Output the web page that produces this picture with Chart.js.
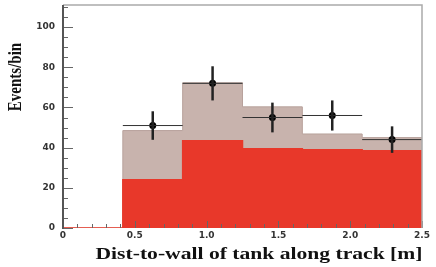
<!DOCTYPE html>
<html>
<head>
<meta charset="utf-8">
<script src="https://cdn.jsdelivr.net/npm/chart.js@4.4.1/dist/chart.umd.min.js"></script>
<style>
  html, body { margin: 0; padding: 0; background: #fff; }
  #wrap { width: 436px; height: 267px; }
</style>
</head>
<body>
<div id="wrap"><canvas id="histChart" width="436" height="267"></canvas></div>
<script>
// Histogram bins (m) and contents
const binEdges = [0, 0.4167, 0.8333, 1.25, 1.6667, 2.0833, 2.5];
const totalMC  = [0, 48.5, 72.3, 60.3, 46.8, 45.0];   // brown (all MC)
const redMC    = [0, 24.0, 43.4, 39.5, 39.0, 38.5];   // red component
const dataVals = [null, 51, 72, 55, 56, 44];          // data points
const dataErr  = [null, 7.1, 8.5, 7.4, 7.5, 6.6];     // vertical errors
const xTicks = [0, 0.5, 1, 1.5, 2, 2.5];
const yTicks = [0, 20, 40, 60, 80, 100];

const RED = '#e8382a';
const BROWN = '#c8b3ad';

// histogram outline as step points (left edge of each bin + final right edge)
function stepPoints(vals) {
    const pts = vals.map((v, i) => ({ x: binEdges[i], y: v }));
    pts.push({ x: binEdges[binEdges.length - 1], y: vals[vals.length - 1] });
    return pts;
}

const dataPoints = [];
dataVals.forEach((v, i) => {
    if (v !== null) dataPoints.push({ x: (binEdges[i] + binEdges[i + 1]) / 2, y: v, i: i });
});

const tickFont = { family: 'DejaVu Sans', size: 9, weight: 'bold' };

// error bars, inner ticks, frame and axis titles
const decor = {
    id: 'decor',
    afterDatasetsDraw(chart) {
        const { ctx, chartArea: a, scales: { x, y } } = chart;
        ctx.save();

        // error bars
        dataPoints.forEach(p => {
            const px = x.getPixelForValue(p.x);
            const py = y.getPixelForValue(p.y);
            ctx.strokeStyle = '#333';
            ctx.lineWidth = 1;
            ctx.beginPath();
            ctx.moveTo(x.getPixelForValue(binEdges[p.i]), py);
            ctx.lineTo(x.getPixelForValue(binEdges[p.i + 1]), py);
            ctx.stroke();
            ctx.strokeStyle = '#222';
            ctx.lineWidth = 2.5;
            ctx.beginPath();
            ctx.moveTo(px, y.getPixelForValue(p.y - dataErr[p.i]));
            ctx.lineTo(px, y.getPixelForValue(p.y + dataErr[p.i]));
            ctx.stroke();
        });

        // ticks pointing into the frame
        ctx.strokeStyle = '#666';
        ctx.lineWidth = 1;
        ctx.beginPath();
        for (let v = 0; v <= 110; v += 5) {
            const py = Math.round(y.getPixelForValue(v)) + 0.5;
            const len = v % 20 === 0 ? 10 : 5;
            ctx.moveTo(a.left, py);
            ctx.lineTo(a.left + len, py);
        }
        for (let k = 0; k <= 25; k++) {
            const px = Math.round(x.getPixelForValue(k / 10)) + 0.5;
            const len = k % 5 === 0 ? 7 : 4;
            ctx.moveTo(px, a.bottom);
            ctx.lineTo(px, a.bottom - len);
        }
        ctx.stroke();

        // frame
        ctx.strokeStyle = '#aaa';
        ctx.lineWidth = 1.5;
        ctx.beginPath();
        ctx.moveTo(a.left, a.top);
        ctx.lineTo(a.right, a.top);
        ctx.lineTo(a.right, a.bottom);
        ctx.stroke();
        ctx.strokeStyle = '#555';
        ctx.lineWidth = 2;
        ctx.beginPath();
        ctx.moveTo(a.left, a.top);
        ctx.lineTo(a.left, a.bottom + 1);
        ctx.stroke();

        // axis titles (the original is stretched sideways)
        ctx.fillStyle = '#111';
        ctx.textAlign = 'center';
        ctx.textBaseline = 'middle';
        ctx.save();
        ctx.translate(259, 255);
        ctx.scale(1.35, 1);
        ctx.font = 'bold 16px "Liberation Serif"';
        ctx.fillText('Dist-to-wall of tank along track [m]', 0, 0);
        ctx.restore();
        ctx.translate(16, 77);
        ctx.rotate(-Math.PI / 2);
        ctx.scale(1, 1.3);
        ctx.font = 'bold 15px "Liberation Serif"';
        ctx.fillText('Events/bin', 0, 0);

        ctx.restore();
    }
};

new Chart(document.getElementById('histChart'), {
    type: 'line',
    data: {
        datasets: [
            {
                type: 'scatter',
                data: dataPoints,
                pointRadius: 3.5,
                pointBackgroundColor: '#000',
                pointBorderColor: '#000',
                pointBorderWidth: 0
            },
            {
                data: stepPoints(redMC),
                stepped: true,
                fill: 'origin',
                backgroundColor: RED,
                borderColor: RED,
                borderWidth: 1.5,
                pointRadius: 0
            },
            {
                data: stepPoints(totalMC),
                stepped: true,
                fill: 'origin',
                backgroundColor: BROWN,
                borderColor: '#b8a29c',
                borderWidth: 1,
                pointRadius: 0
            }
        ]
    },
    options: {
        responsive: false,
        animation: false,
        events: [],
        layout: { padding: { left: 0, top: 5, right: 14, bottom: 0 } },
        plugins: { legend: { display: false }, tooltip: { enabled: false } },
        scales: {
            x: {
                type: 'linear',
                min: 0,
                max: 2.5,
                afterBuildTicks: s => { s.ticks = xTicks.map(v => ({ value: v })); },
                afterFit: s => { s.height = 39; s.paddingLeft = 0; s.paddingRight = 0; },
                grid: { display: false, drawTicks: false },
                border: { display: false },
                ticks: { font: tickFont, color: '#333', padding: 2, maxRotation: 0 }
            },
            y: {
                type: 'linear',
                min: 0,
                max: 111,
                afterBuildTicks: s => { s.ticks = yTicks.map(v => ({ value: v })); },
                afterFit: s => { s.width = 63; s.paddingTop = 0; s.paddingBottom = 0; },
                grid: { display: false, drawTicks: false },
                border: { display: false },
                ticks: { font: tickFont, color: '#333', padding: 8 }
            }
        }
    },
    plugins: [decor]
});
</script>
</body>
</html>
